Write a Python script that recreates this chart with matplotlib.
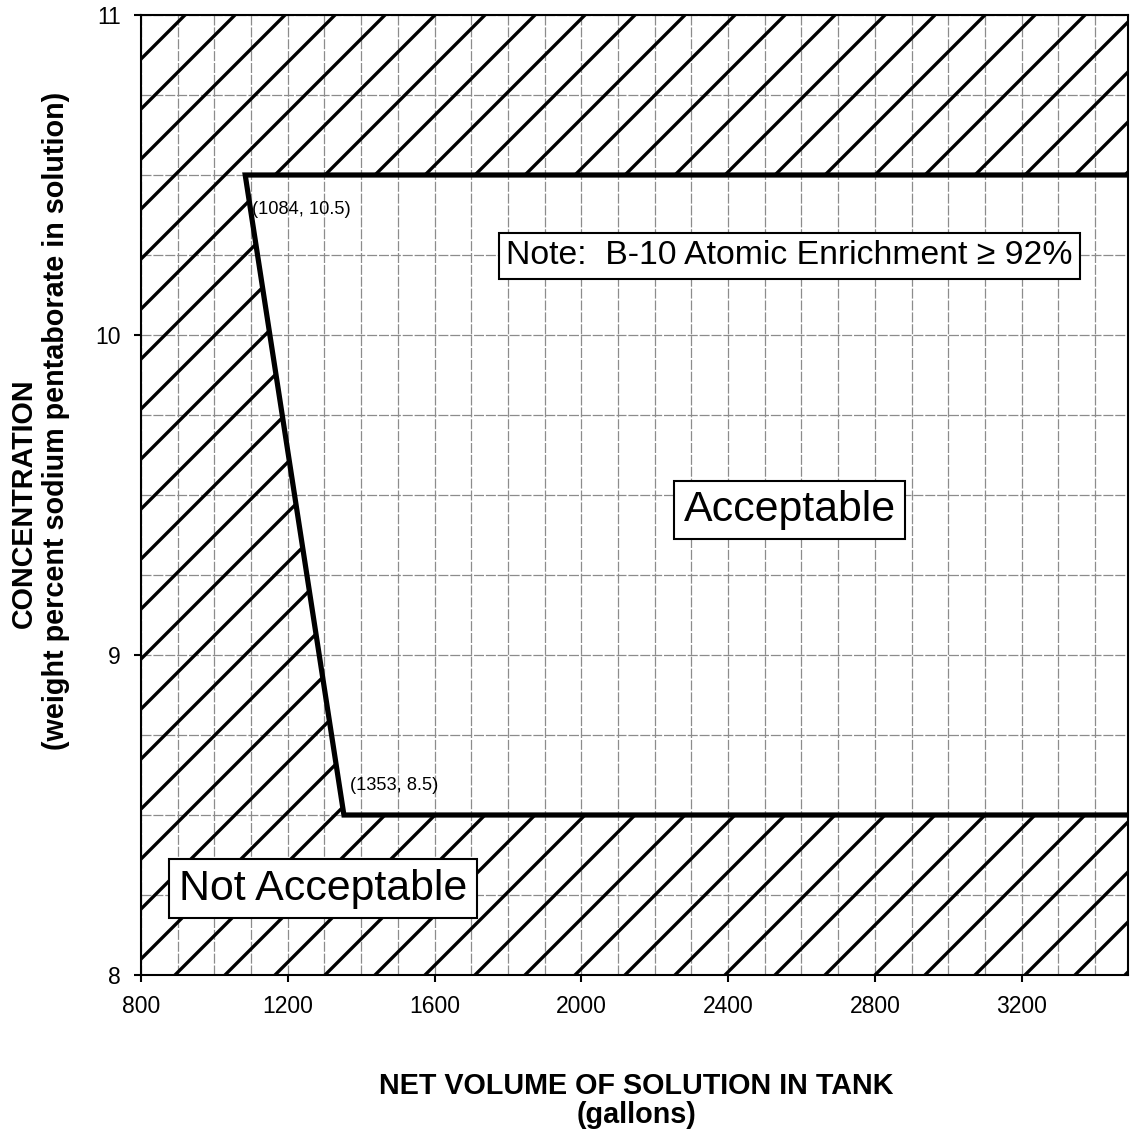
import matplotlib
matplotlib.use("Agg")
import matplotlib.pyplot as plt
from matplotlib.ticker import MultipleLocator

# corner points of the limit curve (gallons, wt %)
vol_pts = [1084, 1353]
conc_pts = [10.5, 8.5]
pt_labels = ["(1084, 10.5)", "(1353, 8.5)"]

x_ticks = [800, 1200, 1600, 2000, 2400, 2800, 3200]
y_ticks = [8, 9, 10, 11]
x_min, x_max = 800, 3490
y_min, y_max = 8, 11

plt.rcParams['font.family'] = ['Liberation Sans', 'DejaVu Sans']
plt.rcParams['hatch.linewidth'] = 0.8

dpi = 300
W, H = 1133, 1136
fig = plt.figure(figsize=(W/dpi, H/dpi), dpi=dpi)
ax = fig.add_axes([141/W, 1-975/H, (1128-141)/W, (975-15)/H])

# limit line: flat at top conc., slope down, flat at bottom conc.
bx = [x_max, vol_pts[0], vol_pts[1], x_max]
by = [conc_pts[0], conc_pts[0], conc_pts[1], conc_pts[1]]

# hatched "not acceptable" region = whole box minus the acceptable band
px = [x_min, x_max] + bx[::-1] + [x_max, x_min]
py = [y_min, y_min] + by[::-1] + [y_max, y_max]
ax.fill(px, py, facecolor='none', edgecolor='black', hatch='//', linewidth=0, zorder=1)

ax.plot(bx, by, color='black', lw=1.25, solid_joinstyle='miter', zorder=3)

offs = [(1.6, -8.2), (1.5, 7.2)]
for v, c, lab, off in zip(vol_pts, conc_pts, pt_labels, offs):
    ax.annotate(lab, (v, c), xytext=off, textcoords='offset points',
                fontsize=4.4, ha='left', va='center', zorder=4)

box = dict(boxstyle='square,pad=0.22', facecolor='white', edgecolor='black', lw=0.5)
ax.text(2568, 10.247, "Note:  B-10 Atomic Enrichment \u2265 92%", fontsize=8.1,
        ha='center', va='center', bbox=box, zorder=5)
ax.text(2568, 9.453, "Acceptable", fontsize=10.3, ha='center', va='center',
        bbox=box, zorder=5)
ax.text(1296, 8.27, "Not Acceptable", fontsize=10.3, ha='center', va='center',
        bbox=box, zorder=5)

ax.set_xlim(x_min, x_max)
ax.set_ylim(y_min, y_max)
ax.set_xticks(x_ticks)
ax.set_yticks(y_ticks)
ax.xaxis.set_minor_locator(MultipleLocator(100))
ax.yaxis.set_minor_locator(MultipleLocator(0.25))
ax.grid(which='both', color='#8c8c8c', lw=0.3, ls=(0, (8, 1.5)))
ax.set_axisbelow(True)
ax.tick_params(which='major', direction='out', length=1.6, width=0.5,
               labelsize=5.5, pad=3.2)
ax.tick_params(which='minor', length=0)
for s in ax.spines.values():
    s.set_linewidth(0.5)

fig.text(636/W, 1-1094/H, "NET VOLUME OF SOLUTION IN TANK", fontsize=6.9,
         fontweight='bold', ha='center', va='baseline')
fig.text(637/W, 1-1123/H, "(gallons)", fontsize=6.9,
         fontweight='bold', ha='center', va='baseline')
fig.text(24/W, 1-503/H, "CONCENTRATION", fontsize=6.9, fontweight='bold',
         rotation=90, ha='center', va='center')
fig.text(56/W, 1-421/H, "(weight percent sodium pentaborate in solution)",
         fontsize=6.9, fontweight='bold', rotation=90, ha='center', va='center')

fig.savefig("out.png", dpi=dpi)
